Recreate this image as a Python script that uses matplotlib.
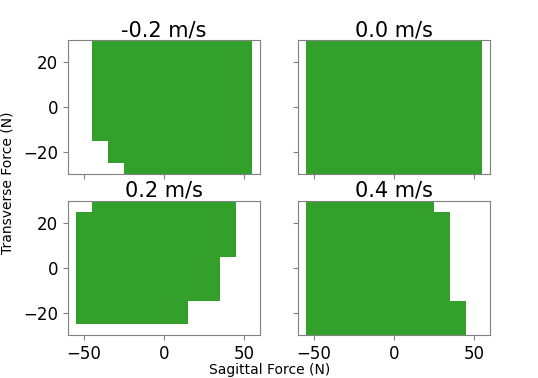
import numpy as np
import matplotlib
matplotlib.use("Agg")
import matplotlib.pyplot as plt
from matplotlib.colors import ListedColormap

# grid of tested forces (N)
sagittal = [-50, -40, -30, -20, -10, 0, 10, 20, 30, 40, 50]
transverse = [-30, -20, -10, 0, 10, 20, 30]

speeds = ["-0.2 m/s", "0.0 m/s", "0.2 m/s", "0.4 m/s"]

# feasible sagittal range for each transverse row (bottom -> top), None = nothing
lo_m02 = [-20, -30, -40, -40, -40, -40, -40]
hi_m02 = [50, 50, 50, 50, 50, 50, 50]
lo_00 = [-50, -50, -50, -50, -50, -50, -50]
hi_00 = [50, 50, 50, 50, 50, 50, 50]
lo_02 = [None, -50, -50, -50, -50, -50, -40]
hi_02 = [None, 10, 30, 30, 40, 40, 40]
lo_04 = [-50, -50, -50, -50, -50, -50, -50]
hi_04 = [40, 40, 30, 30, 30, 30, 20]

ranges = [(lo_m02, hi_m02), (lo_00, hi_00), (lo_02, hi_02), (lo_04, hi_04)]

green = "#33a02c"
cmap = ListedColormap([green])

fig, axes = plt.subplots(2, 2, sharex=True, sharey=True, figsize=(5.38, 3.78), dpi=100)
plt.subplots_adjust(left=0.126, right=0.911, top=0.894, bottom=0.114, wspace=0.2, hspace=0.2)

X = np.array(sagittal)
Y = np.array(transverse)
for ax, title, (lo, hi) in zip(axes.flat, speeds, ranges):
    ok = np.zeros((len(Y), len(X)), dtype=bool)
    for i in range(len(Y)):
        if lo[i] is None:
            continue
        ok[i] = (X >= lo[i]) & (X <= hi[i])
    data = np.ma.masked_where(~ok, np.ones(ok.shape))
    ax.pcolormesh(X, Y, data, cmap=cmap, shading="nearest", vmin=0, vmax=1)
    ax.set_title(title, fontsize=15, pad=2)
    ax.set_xlim(-60, 60)
    ax.set_ylim(-30, 30)
    ax.set_xticks([-50, 0, 50])
    ax.set_yticks([-20, 0, 20])
    ax.tick_params(labelsize=12, color="#808080")
    for s in ax.spines.values():
        s.set_color("#808080")

fig.text(270 / 538, 1 - 370 / 378, "Sagittal Force (N)", ha="center", va="center", fontsize=10)
fig.text(8 / 538, 1 - 183 / 378, "Transverse Force (N)", ha="center", va="center", rotation=90, fontsize=10)

plt.savefig("out.png", dpi=100)
